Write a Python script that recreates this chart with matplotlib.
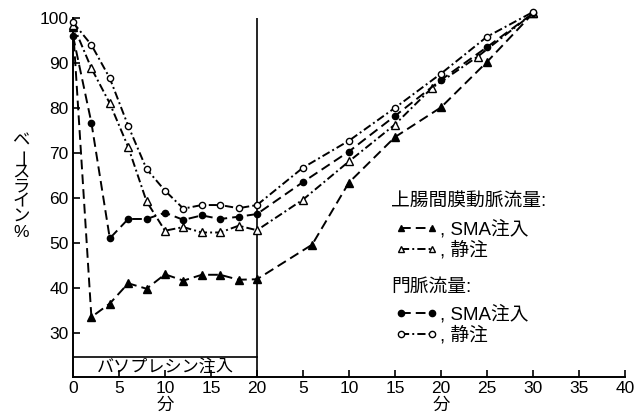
import matplotlib.pyplot as plt
from matplotlib.lines import Line2D

plt.rcParams['font.family'] = ['Liberation Sans', 'Noto Sans CJK JP']

# minutes on a continuous axis: 0-20 during infusion, 20-60 = 0-40 min after
t_sma_art = [0, 2, 4, 6, 8, 10, 12, 14, 16, 18, 20, 26, 30, 35, 40, 45, 50]
sma_art = [98, 33.5, 36.5, 41, 39.8, 43, 41.6, 42.9, 42.9, 41.8, 41.9, 49.6, 63.4, 73.5, 80.1, 90.2, 101]

t_iv_art = [0, 2, 4, 6, 8, 10, 12, 14, 16, 18, 20, 25, 30, 35, 39, 44, 50]
iv_art = [98.5, 88.8, 81, 71.3, 59.2, 52.7, 53.5, 52.3, 52.3, 53.8, 52.8, 59.6, 68.1, 76.3, 84.4, 91.4, 101]

t_portal = [0, 2, 4, 6, 8, 10, 12, 14, 16, 18, 20, 25, 30, 35, 40, 45, 50]
sma_portal = [96, 76.7, 51, 55.3, 55.3, 56.7, 55.1, 56.1, 55.3, 55.8, 56.4, 63.5, 70.3, 78.2, 86.2, 93.5, 101]
iv_portal = [99, 94, 86.6, 76, 66.4, 61.6, 57.6, 58.4, 58.4, 57.7, 58.4, 66.7, 72.7, 80, 87.6, 95.8, 101.3]

xtick_pos = [0, 5, 10, 15, 20, 25, 30, 35, 40, 45, 50, 55, 60]
xtick_lab = ['0', '5', '10', '15', '20', '5', '10', '15', '20', '25', '30', '35', '40']
ytick_pos = [30, 40, 50, 60, 70, 80, 90, 100]

DASH = (0, (5, 2.6))
DASHDOT = (0, (4.2, 1.6, 1, 1.6))

fig = plt.figure(figsize=(6.37, 4.16), dpi=100)
ax = fig.add_axes([0.1146, 0.094, 0.8664, 0.863])

kw = dict(color='black', lw=1.4, clip_on=False, zorder=3)
ax.plot(t_sma_art, sma_art, ls=DASH, marker='^', mfc='black', markersize=5.5, **kw)
ax.plot(t_iv_art, iv_art, ls=DASHDOT, marker='^', mfc='white', markersize=5.5, **kw)
ax.plot(t_portal, sma_portal, ls=DASH, marker='o', mfc='black', markersize=4.5, **kw)
ax.plot(t_portal, iv_portal, ls=DASHDOT, marker='o', mfc='white', markersize=4.5, **kw)

ax.set_xlim(0, 60)
ax.set_ylim(20.2, 100)
ax.spines['top'].set_visible(False)
ax.spines['right'].set_visible(False)
for s in ['left', 'bottom']:
    ax.spines[s].set_linewidth(1.4)

ax.set_xticks(xtick_pos)
ax.set_xticklabels(xtick_lab)
ax.set_yticks(ytick_pos)
ax.tick_params(direction='in', length=5, width=1.2, labelsize=12.5, pad=3)

# infusion period marker
ax.axvline(20, color='black', lw=1.2)
ax.plot([0, 20], [24.7, 24.7], color='black', lw=1.2)
ax.text(10, 22.3, 'バソプレシン注入', ha='center', va='center', fontsize=12.3)

ax.text(10, -0.08, '分', transform=ax.get_xaxis_transform(), ha='center', va='center', fontsize=12.5)
ax.text(40, -0.08, '分', transform=ax.get_xaxis_transform(), ha='center', va='center', fontsize=12.5)

# vertical y label
ylabel_chars = ['ベ', 'ー', 'ス', 'ラ', 'イ', 'ン', '%']
for i, ch in enumerate(ylabel_chars):
    if ch == 'ー':
        fig.text(26 / 637, 1 - (141 + i * 15.3) / 416, ch, ha='center', va='center', fontsize=12.5,
                 rotation=90)
    else:
        fig.text(21 / 637, 1 - (141 + i * 15.3) / 416, ch, ha='center', va='center', fontsize=12.5)


def handle(marker, fill, ls):
    return Line2D([], [], color='black', lw=1.4, ls=ls, marker=marker, mfc=fill, markersize=4.5)


fig.text(391 / 637, 1 - 201.7 / 416, '上腸間膜動脈流量:', ha='left', va='center', fontsize=13.5)
fig.text(391 / 637, 1 - 287.3 / 416, '門脈流量:', ha='left', va='center', fontsize=13.5)

leg_kw = dict(loc='upper left', bbox_transform=fig.transFigure, frameon=False, fontsize=13.5,
              numpoints=2, handlelength=2.3, handletextpad=0.1, labelspacing=0.15, borderpad=0,
              borderaxespad=0)
leg1 = ax.legend([handle('^', 'black', DASH), handle('^', 'white', DASHDOT)],
                 [', SMA注入', ', 静注'], bbox_to_anchor=(395 / 637, 1 - 220 / 416), **leg_kw)
ax.add_artist(leg1)
ax.legend([handle('o', 'black', DASH), handle('o', 'white', DASHDOT)],
          [', SMA注入', ', 静注'], bbox_to_anchor=(395 / 637, 1 - 305 / 416), **leg_kw)

fig.savefig('out.png', dpi=100)
